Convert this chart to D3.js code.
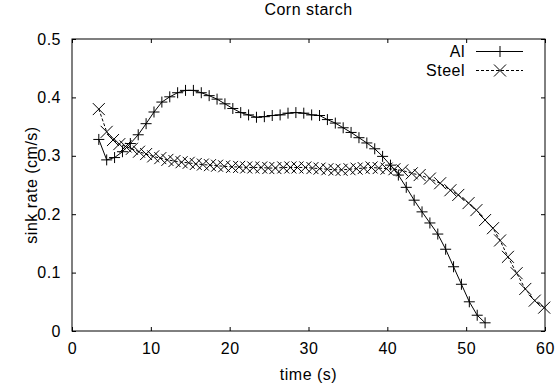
<!DOCTYPE html>
<html>
<head>
<meta charset="utf-8">
<script src="https://cdn.jsdelivr.net/npm/d3@7"></script>
<style>
  body { margin: 0; background: #fff; }
  svg { display: block; }
  text { font-family: "Liberation Sans", Arial, Helvetica, sans-serif; font-size: 16px; letter-spacing: 0.5px; fill: #000; }
</style>
</head>
<body>
<svg id="chart" width="558" height="390"></svg>
<script>
// ---- data ----
const title = "Corn starch";
const xLabel = "time (s)";
const yLabel = "sink rate (cm/s)";
const seriesNames = ["Al", "Steel"];

const xTicks = [0, 10, 20, 30, 40, 50, 60];
const yTicks = [0, 0.1, 0.2, 0.3, 0.4, 0.5];

const alTime = [3.4, 4.4, 5.4, 6.4, 7.4, 8.4, 9.4, 10.4, 11.4, 12.4, 13.4, 14.4, 15.4, 16.4, 17.4, 18.4, 19.4, 20.4,
  21.4, 22.4, 23.4, 24.4, 25.4, 26.4, 27.4, 28.4, 29.4, 30.4, 31.4, 32.4, 33.4, 34.4, 35.4, 36.4, 37.4, 38.4, 39.4,
  40.4, 41.4, 42.4, 43.4, 44.4, 45.4, 46.4, 47.4, 48.4, 49.4, 50.4, 51.4, 52.4];
const alRate = [0.328, 0.293, 0.297, 0.307, 0.321, 0.336, 0.355, 0.375, 0.392, 0.401, 0.408, 0.412, 0.412, 0.408, 0.403,
  0.397, 0.389, 0.381, 0.374, 0.370, 0.366, 0.367, 0.369, 0.370, 0.373, 0.374, 0.373, 0.370, 0.369, 0.362, 0.356,
  0.348, 0.340, 0.331, 0.322, 0.312, 0.299, 0.284, 0.267, 0.246, 0.224, 0.204, 0.185, 0.166, 0.140, 0.110, 0.080,
  0.050, 0.027, 0.014];

const steelTime = [3.4, 4.4, 5.2, 6.0, 6.8, 7.6, 8.5, 9.4, 10.3, 11.2, 12.1, 13.0, 13.9, 14.8, 15.7, 16.6, 17.5, 18.4,
  19.3, 20.3, 21.2, 22.1, 23.0, 24.0, 24.9, 25.8, 26.8, 27.7, 28.6, 29.6, 30.5, 31.4, 32.4, 33.3, 34.2, 35.2, 36.1,
  37.0, 38.0, 38.9, 39.9, 40.9, 41.9, 43.1, 44.1, 45.4, 46.7, 48.0, 49.0, 50.3, 51.3, 52.4, 53.4, 54.3, 55.3, 56.4,
  57.5, 58.7, 59.9];
const steelRate = [0.380, 0.341, 0.327, 0.320, 0.316, 0.312, 0.307, 0.303, 0.299, 0.296, 0.293, 0.291, 0.289, 0.288,
  0.286, 0.285, 0.284, 0.283, 0.282, 0.281, 0.281, 0.280, 0.280, 0.280, 0.279, 0.279, 0.280, 0.280, 0.280, 0.280,
  0.279, 0.278, 0.277, 0.276, 0.276, 0.277, 0.278, 0.279, 0.280, 0.279, 0.278, 0.277, 0.275, 0.270, 0.267, 0.261,
  0.253, 0.241, 0.233, 0.219, 0.207, 0.190, 0.176, 0.155, 0.127, 0.099, 0.072, 0.052, 0.040];

// ---- layout ----
const svg = d3.select("#chart");
const L = 72, R = 545, T = 39, B = 331;
const x = d3.scaleLinear().domain([0, 60]).range([L, R]);
const y = d3.scaleLinear().domain([0, 0.5]).range([B, T]);

// axes (inward ticks on all four sides)
svg.append("g").attr("transform", `translate(0,${B})`)
  .call(d3.axisBottom(x).tickValues(xTicks).tickSizeInner(-4).tickSizeOuter(0).tickPadding(12).tickFormat(d3.format("d")))
  .call(g => g.select(".domain").remove());
svg.append("g").attr("transform", `translate(0,${T})`)
  .call(d3.axisTop(x).tickValues(xTicks).tickSizeInner(-4).tickSizeOuter(0).tickFormat(""))
  .call(g => g.select(".domain").remove());
svg.append("g").attr("transform", `translate(${L},0)`)
  .call(d3.axisLeft(y).tickValues(yTicks).tickSizeInner(-4).tickSizeOuter(0).tickPadding(11).tickFormat(d => d === 0 ? "0" : d3.format(".1f")(d)))
  .call(g => g.select(".domain").remove());
svg.append("g").attr("transform", `translate(${R},0)`)
  .call(d3.axisRight(y).tickValues(yTicks).tickSizeInner(-4).tickSizeOuter(0).tickFormat(""))
  .call(g => g.select(".domain").remove());
svg.selectAll(".tick text").attr("font-size", null).attr("font-family", null);
svg.selectAll(".tick line").attr("stroke", "#000");

svg.append("rect").attr("x", L).attr("y", T).attr("width", R - L).attr("height", B - T)
  .attr("fill", "none").attr("stroke", "#000").attr("stroke-width", 1);

// labels
svg.append("text").attr("x", (L + R) / 2).attr("y", 15).attr("text-anchor", "middle").text(title);
svg.append("text").attr("x", (L + R) / 2).attr("y", 380).attr("text-anchor", "middle").text(xLabel);
svg.append("text").attr("transform", `translate(37,${(T + B) / 2}) rotate(-90)`).attr("text-anchor", "middle").text(yLabel);

// series
const line = d3.line().x(d => x(d[0])).y(d => y(d[1]));
const alData = alTime.map((t, i) => [t, alRate[i]]);
const steelData = steelTime.map((t, i) => [t, steelRate[i]]);

function plus(g, cx, cy, s) {
  g.append("path").attr("d", `M${cx - s},${cy}H${cx + s}M${cx},${cy - s}V${cy + s}`)
    .attr("stroke", "#000").attr("stroke-width", 1).attr("fill", "none");
}
function cross(g, cx, cy, s) {
  g.append("path").attr("d", `M${cx - s},${cy - s}L${cx + s},${cy + s}M${cx - s},${cy + s}L${cx + s},${cy - s}`)
    .attr("stroke", "#000").attr("stroke-width", 1).attr("fill", "none");
}

const gAl = svg.append("g");
gAl.append("path").datum(alData).attr("d", line).attr("fill", "none").attr("stroke", "#000").attr("stroke-width", 1);
alData.forEach(d => plus(gAl, x(d[0]), y(d[1]), 5.5));

const gSt = svg.append("g");
gSt.append("path").datum(steelData).attr("d", line).attr("fill", "none").attr("stroke", "#000")
  .attr("stroke-width", 1).attr("stroke-dasharray", "3,2");
steelData.forEach(d => cross(gSt, x(d[0]), y(d[1]), 6));

// legend
const leg = svg.append("g");
leg.append("text").attr("x", 465).attr("y", 57).attr("text-anchor", "end").text(seriesNames[0]);
leg.append("line").attr("x1", 476).attr("x2", 523).attr("y1", 51.5).attr("y2", 51.5).attr("stroke", "#000");
plus(leg, 500, 51.5, 5.5);
leg.append("text").attr("x", 465).attr("y", 75.5).attr("text-anchor", "end").text(seriesNames[1]);
leg.append("line").attr("x1", 476).attr("x2", 523).attr("y1", 70.5).attr("y2", 70.5).attr("stroke", "#000").attr("stroke-dasharray", "3,2");
cross(leg, 500, 70.5, 6);
</script>
</body>
</html>
